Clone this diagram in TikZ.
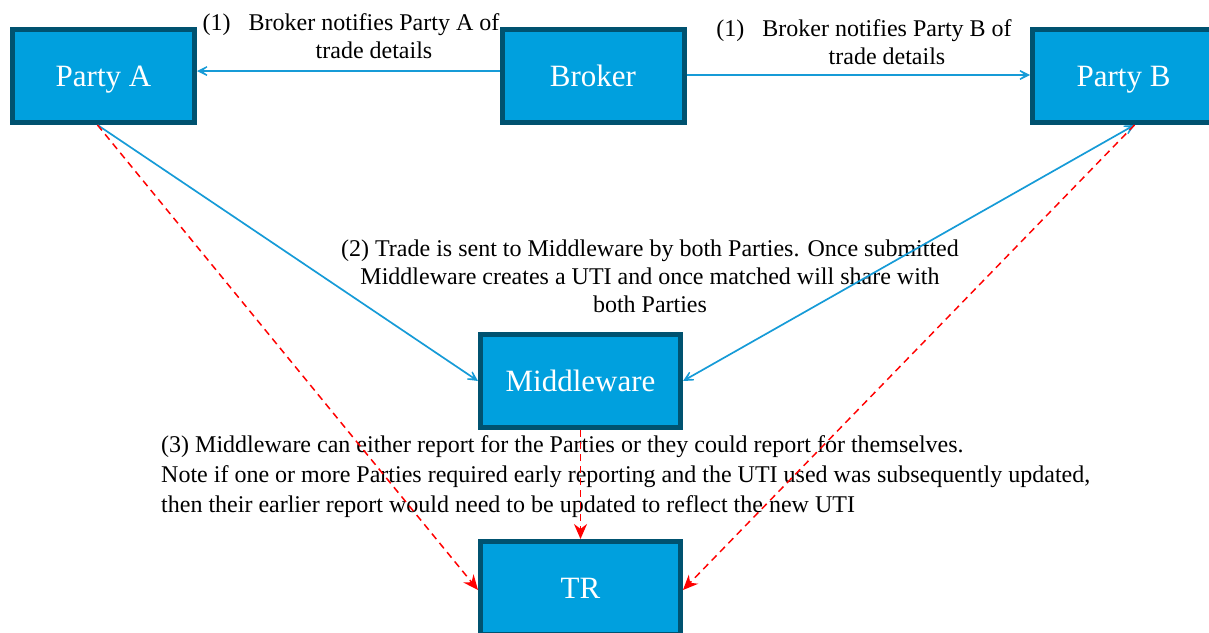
\documentclass[tikz,border=0pt]{standalone}
\usepackage{fontspec}
\setmainfont{Liberation Serif}
\usetikzlibrary{arrows.meta}
\definecolor{boxfill}{RGB}{0,160,222}
\definecolor{boxline}{RGB}{0,82,112}
\definecolor{linkblue}{RGB}{22,155,215}

\begin{document}
\begin{tikzpicture}[x=1pt,y=-1pt,
		bluetip/.tip={Stealth[length=17pt,width=17pt,inset=12pt]},
		redtip/.tip={Stealth[length=15pt,width=13pt]},
		blueline/.style={draw=linkblue, line width=1.7pt},
		redline/.style={draw=red, line width=1.5pt, dash pattern=on 7pt off 5pt},
		note/.style={font=\fontsize{24}{28}\selectfont, inner sep=0pt}]
		\useasboundingbox (0,0) rectangle (1209,632);
		\begin{scope}[every node/.style={draw=boxline,fill=boxfill,line width=5pt,text=white,minimum width=182pt,minimum height=93pt,inner sep=0pt,text height=27pt,text depth=7pt,font=\fontsize{31}{36}\selectfont}]
		\node (pa) at (103.5,76) {Party A};
		\node (br) at (593,76) {Broker};
		\node (pb) at (1123.5,76) {Party B};
		\node[minimum width=200pt] (mw) at (580.5,381) {Middleware};
		\node[minimum width=200pt] (tr) at (580.5,588) {TR};
		\end{scope}
		
		\node[note, align=center] (t1a) at (374,36) {\llap{(1)\hspace{18pt}}Broker notifies Party A of\\trade details};
		\node[note, align=center] (t1b) at (887,42) {\llap{(1)\hspace{18pt}}Broker notifies Party B of\\trade details};
		\node[note, align=center] (t2) at (650,276) {(2) Trade is sent to Middleware by both Parties. Once submitted\\Middleware creates a UTI and once matched will share with\\both Parties};
		\node[note, align=left, anchor=west, font=\fontsize{24}{30}\selectfont] (t3) at (161,477) {(3) Middleware can either report for the Parties or they could report for themselves.\\Note if one or more Parties required early reporting and the UTI used was subsequently updated,\\then their earlier report would need to be updated to reflect the new UTI};
		
		\draw[blueline, -bluetip] ([yshift=5pt]br.west) -- ([yshift=5pt]pa.east);
		\draw[blueline, -bluetip] ([yshift=1pt]br.east) -- ([yshift=1pt]pb.west);
		\draw[blueline, -bluetip] ([xshift=-6pt]pa.south) -- (mw.west);
		\draw[blueline, bluetip-bluetip] (mw.east) -- ([xshift=11pt]pb.south);
		\draw[redline, -redtip] ([xshift=-6pt]pa.south) -- ([yshift=-2pt]tr.west);
		\draw[redline, -redtip] (mw.south) -- (tr.north);
		\draw[redline, -redtip] ([xshift=11pt]pb.south) -- ([yshift=-2pt]tr.east);
		
		\end{tikzpicture}
\end{document}
